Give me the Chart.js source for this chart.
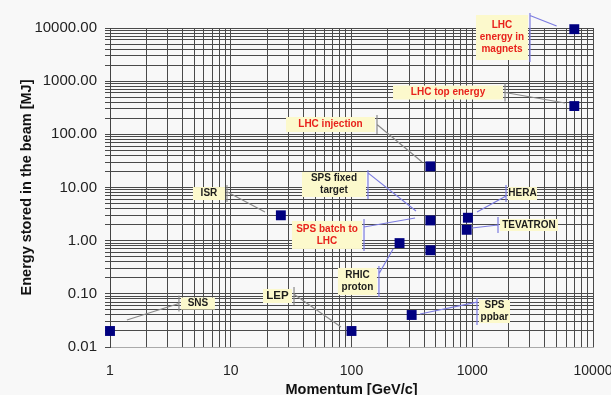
<!DOCTYPE html>
<html>
<head>
<meta charset="utf-8">
<script src="https://cdn.jsdelivr.net/npm/chart.js@4"></script>
<style>
  html, body { margin: 0; padding: 0; background: #f8f8f8; }
  #wrap { width: 611px; height: 395px; }
</style>
</head>
<body>
<div id="wrap"><canvas id="beamChart" width="611" height="395"></canvas></div>
<script>
// Stored beam energy vs momentum for a few machines
const machines = ['SNS', 'LEP', 'ISR', 'RHIC proton', 'SPS ppbar', 'LHC injection',
                  'SPS fixed target', 'SPS (450 GeV/c)', 'HERA', 'TEVATRON',
                  'LHC energy in magnets', 'LHC top energy'];
const momentum = [1, 100, 26, 250, 315, 450, 450, 450, 920, 900, 7000, 7000];   // GeV/c
const energy = [0.02, 0.02, 3.0, 0.9, 0.04, 25, 2.4, 0.66, 2.7, 1.6, 9500, 340]; // MJ

// axis decades
const xTicks = [1, 10, 100, 1000, 10000];
const yTicks = [0.01, 0.1, 1, 10, 100, 1000, 10000];

// callout boxes: centre and leader tip in data units
const callouts = [
  { text: ['LHC', 'energy in', 'magnets'], red: true, blue: true, at: [1763, 6622], w: 52, h: 45, side: 'right', from: 0.05, tip: [5000, 10900] },
  { text: ['LHC top energy'], red: true, at: [630, 612], w: 110, h: 14, side: 'right', from: 0.5, tip: [5865, 388] },
  { text: ['LHC injection'], red: true, at: [67, 153], w: 89, h: 15, side: 'right', from: 0.5, tip: [384, 30.1] },
  { text: ['ISR'], at: [6.6, 7.7], w: 32, h: 13, side: 'right', from: 0.4, tip: [19.2, 3.46] },
  { text: ['SNS'], at: [5.35, 0.0658], w: 34, h: 12, side: 'left', from: 0.5, tip: [1.38, 0.0322] },
  { text: ['LEP'], big: true, at: [24.4, 0.091], w: 29, h: 14, side: 'right', from: 0.4, tip: [81.9, 0.0238] },
  { text: ['SPS fixed', 'target'], blue: true, at: [71.6, 11.4], w: 64, h: 25, side: 'right', from: 0.1, tip: [342, 3.61] },
  { text: ['SPS batch to', 'LHC'], red: true, blue: true, at: [62.7, 1.28], w: 70, h: 28, side: 'right', from: 0.25, tip: [336, 2.67] },
  { text: ['RHIC', 'proton'], blue: true, at: [112, 0.171], w: 39, h: 27, side: 'right', from: 0.25, tip: [221, 0.697] },
  { text: ['HERA'], blue: true, at: [2608, 7.7], w: 29, h: 13, side: 'left', from: 0.65, tip: [1095, 3.46] },
  { text: ['TEVATRON'], blue: true, at: [2951, 1.97], w: 58, h: 12, side: 'left', from: 0.5, tip: [995, 1.73] },
  { text: ['SPS', 'ppbar'], blue: true, at: [1528, 0.0465], w: 31, h: 23, side: 'left', from: 0.15, tip: [369, 0.0418] }
];

const FONT = '"Liberation Sans", Arial, sans-serif';

// majors plus 2..9 in every decade
function logTicks(majors) {
  const out = [];
  for (let i = 0; i < majors.length; i++) {
    out.push({ value: majors[i], major: true });
    if (i < majors.length - 1) {
      for (let k = 2; k <= 9; k++) out.push({ value: majors[i] * k });
    }
  }
  return out;
}

const calloutPlugin = {
  id: 'callouts',
  afterDatasetsDraw(chart) {
    const { ctx, scales: { x, y } } = chart;
    ctx.save();
    callouts.forEach(c => {
      const cx = x.getPixelForValue(c.at[0]);
      const cy = y.getPixelForValue(c.at[1]);
      const left = cx - c.w / 2;
      const top = cy - c.h / 2;

      ctx.fillStyle = '#fcf9cc';
      ctx.fillRect(left, top, c.w, c.h);

      ctx.font = c.big ? 'bold 11.5px ' + FONT : 'bold 10px ' + FONT;
      ctx.fillStyle = c.red ? '#e8221c' : '#1c1c1c';
      ctx.textAlign = 'center';
      ctx.textBaseline = 'middle';
      c.text.forEach((t, i) => {
        ctx.fillText(t, cx, cy + (i - (c.text.length - 1) / 2) * 12);
      });

      // bar at the box edge and leader line
      const bx = c.side === 'left' ? left - 2 : left + c.w + 2;
      ctx.strokeStyle = c.blue ? '#7c7ce0' : '#8a8a8a';
      ctx.lineWidth = 1.2;
      ctx.beginPath();
      ctx.moveTo(bx, top - 2);
      ctx.lineTo(bx, top + c.h + 2);
      ctx.moveTo(bx, top - 2 + (c.h + 4) * c.from);
      ctx.lineTo(x.getPixelForValue(c.tip[0]), y.getPixelForValue(c.tip[1]));
      ctx.stroke();
    });
    ctx.restore();
  }
};

const ctx = document.getElementById('beamChart').getContext('2d');

const beamChart = new Chart(ctx, {
  type: 'scatter',
  data: {
    datasets: [{
      label: 'Stored beam energy',
      data: machines.map((name, i) => ({ x: momentum[i], y: energy[i] })),
      pointStyle: 'rect',
      pointRadius: 7,
      pointHoverRadius: 7,
      backgroundColor: '#000080',
      borderColor: '#000080',
      borderWidth: 0,
      clip: false
    }]
  },
  options: {
    responsive: false,
    animation: false,
    events: [],
    layout: {
      padding: { top: 28, right: 18, bottom: 0, left: 0 }
    },
    plugins: {
      legend: { display: false },
      tooltip: { enabled: false }
    },
    scales: {
      x: {
        type: 'logarithmic',
        min: 1,
        max: 10000,
        afterBuildTicks: scale => { scale.ticks = logTicks(xTicks); },
        afterFit: scale => {
          scale.height = 48;
          scale.paddingLeft = 0;
          scale.paddingRight = 0;
        },
        grid: {
          color: '#4a4a4a',
          lineWidth: 1,
          drawTicks: false
        },
        border: { color: '#aaa' },
        ticks: {
          autoSkip: false,
          maxRotation: 0,
          padding: 16,
          color: '#222',
          font: { family: FONT, size: 14 },
          callback: (v, i, ticks) => ticks[i].major ? String(v) : ''
        },
        title: {
          display: true,
          text: 'Momentum [GeV/c]',
          color: '#111',
          padding: { top: 0, bottom: -4 },
          font: { family: FONT, size: 14.5, weight: 'bold' }
        }
      },
      y: {
        type: 'logarithmic',
        min: 0.01,
        max: 10000,
        afterBuildTicks: scale => { scale.ticks = logTicks(yTicks); },
        afterFit: scale => {
          scale.width = 110;
          scale.paddingTop = 0;
          scale.paddingBottom = 0;
        },
        grid: {
          color: '#4a4a4a',
          lineWidth: 1,
          tickLength: 5
        },
        border: { color: '#444' },
        ticks: {
          autoSkip: false,
          padding: 8,
          color: '#222',
          font: { family: FONT, size: 15 },
          callback: (v, i, ticks) => ticks[i].major ? Number(v).toFixed(2) : ''
        },
        title: {
          display: true,
          text: 'Energy stored in the beam [MJ]',
          color: '#111',
          padding: { top: 18, bottom: 0 },
          font: { family: FONT, size: 14.5, weight: 'bold' }
        }
      }
    }
  },
  plugins: [calloutPlugin]
});
</script>
</body>
</html>
